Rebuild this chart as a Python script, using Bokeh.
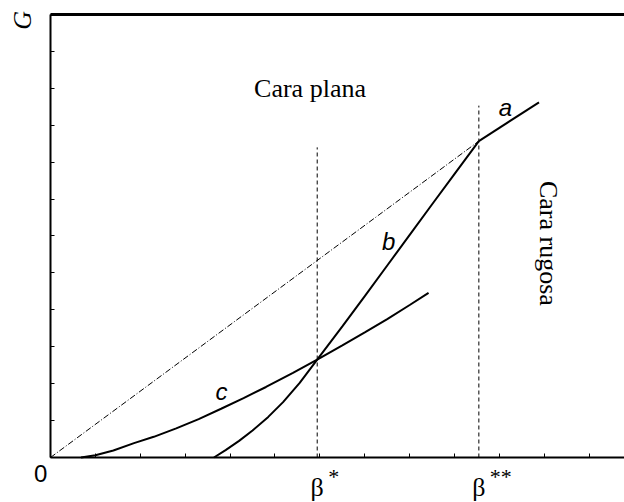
from math import pi

from bokeh.embed import file_html
from bokeh.models import FixedTicker, Label, Range1d
from bokeh.plotting import figure
from bokeh.resources import INLINE

# Curve c (flat-face free energy), read along its path
c_x = [0.68, 1.0, 1.4, 1.86, 2.3, 2.8, 3.3, 3.8, 4.3, 4.8, 5.4, 5.94,
       6.5, 7.0, 7.5, 8.0, 8.42]
c_y = [0.0, 0.06, 0.19, 0.39, 0.56, 0.79, 1.04, 1.32, 1.61, 1.91, 2.29, 2.65,
       3.04, 3.39, 3.75, 4.13, 4.46]

# Curve b (rough face), steeper, crossing c at beta*
b_x = [3.64, 3.9, 4.2, 4.5, 4.85, 5.18, 5.55, 5.94, 6.5, 7.0, 7.5, 8.0,
       8.5, 9.0, 9.54]
b_y = [0.0, 0.2, 0.45, 0.73, 1.1, 1.5, 2.02, 2.65, 3.55, 4.37, 5.2, 6.03,
       6.86, 7.68, 8.57]

# Branch a beyond beta**
a_x = [9.54, 10.88]
a_y = [8.57, 9.62]

# Dash-dot reference line from the origin
ref_x = [0.0, 9.54]
ref_y = [0.0, 8.57]

# Guide positions and their heights
guide_x = [5.94, 9.54]
guide_top = [8.40, 9.53]

x_ticks = list(range(0, 13))
y_ticks = list(range(0, 13))
x_max = 12.78
y_max = 12

SERIF = "Liberation Serif"
SANS = "Liberation Sans"

# the frame fills the canvas; the axes sit at x=0 and y=0
p = figure(
    width=624, height=502,
    output_backend="svg", toolbar_location=None,
    x_range=Range1d(-1.1136, 12.784), y_range=Range1d(-1.2189, 12.378),
    min_border=0,
)
p.outline_line_color = None
p.grid.visible = False
p.background_fill_color = "white"
p.border_fill_color = "white"

for ax, ticks, bound in ((p.xaxis[0], x_ticks, x_max), (p.yaxis[0], y_ticks, y_max)):
    ax.ticker = FixedTicker(ticks=ticks)
    ax.fixed_location = 0
    ax.bounds = (0, bound)
    ax.major_tick_in = 4
    ax.major_tick_out = 0
    ax.minor_tick_line_color = None
    ax.major_label_text_font_size = "0px"
    ax.major_label_standoff = 0
    ax.axis_line_width = 2
    ax.axis_line_color = "black"
    ax.major_tick_line_color = "black"
    ax.major_tick_line_width = 1

# top border of the box
p.line([0, x_max], [y_max, y_max], line_color="black", line_width=3)

# guides at beta* and beta**
p.segment(x0=guide_x, y0=[0, 0], x1=guide_x, y1=guide_top,
          line_color="black", line_width=1, line_dash="4 3")

p.line(ref_x, ref_y, line_color="black", line_width=1, line_dash="6 2 1 2")
p.line(c_x, c_y, line_color="black", line_width=2)
p.line(b_x, b_y, line_color="black", line_width=2)
p.line(a_x, a_y, line_color="black", line_width=2)


def label(x, y, text, font, size, style="normal", align="center",
          baseline="middle", angle=0):
    p.add_layout(Label(x=x, y=y, text=text, text_font=font,
                       text_font_size=size, text_font_style=style,
                       text_align=align, text_baseline=baseline,
                       angle=angle, text_color="black"))


label(5.78, 9.99, "Cara plana", SERIF, "26px", baseline="alphabetic")
label(11.09, 5.80, "Cara rugosa", SERIF, "26px", angle=-pi / 2)
label(10.13, 9.48, "a", SANS, "24px", style="italic")
label(7.53, 5.85, "b", SANS, "24px", style="italic")
label(3.81, 1.80, "c", SANS, "24px", style="italic")

label(-0.22, -0.44, "0", SANS, "24px", baseline="alphabetic")
label(guide_x[0], -0.82, "β", SERIF, "26px", baseline="alphabetic")
label(guide_x[0] + 0.245, -0.17, "*", SERIF, "22px", align="left", baseline="top")
label(guide_x[1], -0.82, "β", SERIF, "26px", baseline="alphabetic")
label(guide_x[1] + 0.245, -0.17, "**", SERIF, "22px", align="left", baseline="top")
label(-0.62, 11.84, "G", SERIF, "26px", style="italic", angle=pi / 2)

open("out.html", "w").write(file_html(p, INLINE))
